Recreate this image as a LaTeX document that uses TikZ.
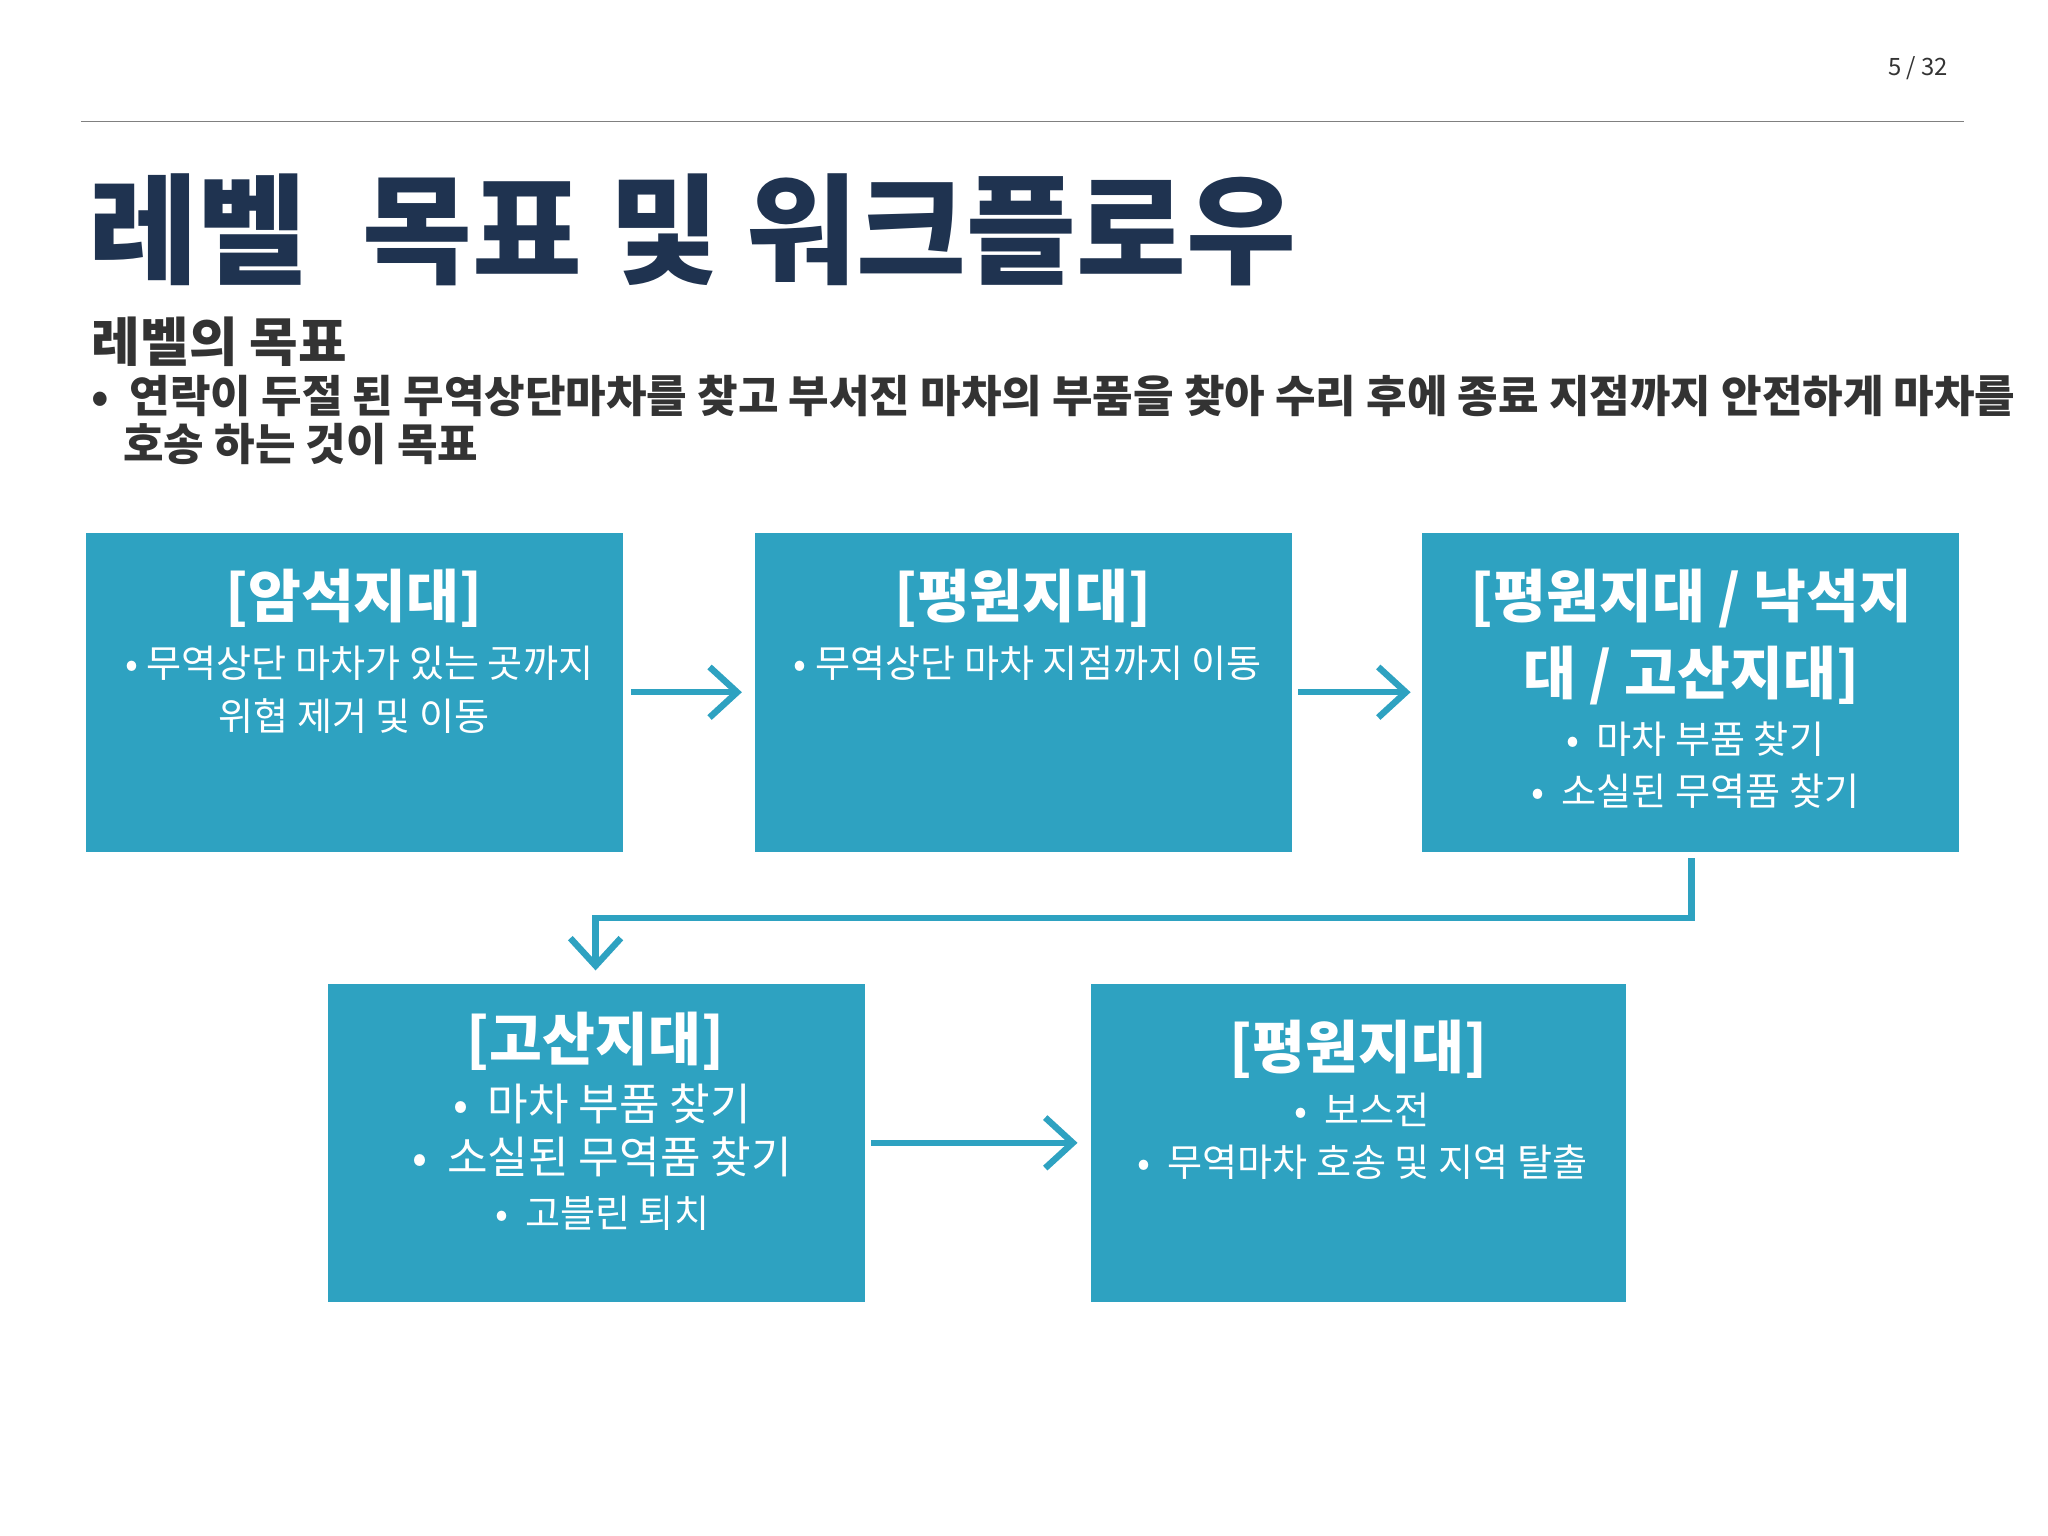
\documentclass[tikz,border=0pt]{standalone}
\usepackage{fontspec}
\setmainfont{Noto Sans CJK KR}
\usetikzlibrary{arrows.meta}
\definecolor{boxc}{HTML}{2EA2C1}
\definecolor{navy}{HTML}{1F3350}
\definecolor{txt}{HTML}{333333}
\tikzset{
 box/.style={fill=boxc,draw=none},
 btitle/.style={text=white,font=\fontsize{12.5}{14}\selectfont\bfseries,anchor=center},
 bline/.style={text=white,font=\fontsize{8.3}{10}\selectfont,anchor=center},
 conn/.style={draw=boxc,line width=1.4pt,-{Straight Barb[length=6pt,width=11pt,line width=1.4pt]}}
}
\begin{document}
\begin{tikzpicture}[x=0.01cm,y=-0.01cm]
\useasboundingbox (0,0) rectangle (1568,1176);
\node[text=txt,font=\fontsize{5.2}{6}\selectfont,anchor=east] (pg) at (1504,52) {5 / 32};
\draw[gray,line width=0.4pt] (62,93) -- (1504,93);
\node[text=navy,font=\fontsize{26}{30}\selectfont\bfseries,anchor=west] (title) at (55,176) {레벨\ \ 목표 및 워크플로우};
\node[text=txt,font=\fontsize{11.5}{13}\selectfont\bfseries,anchor=west] (sub) at (58,262) {레벨의 목표};
\node[text=txt,font=\fontsize{9.6}{11}\selectfont\bfseries,anchor=west] (b0) at (58,303) {•\ \ 연락이 두절 된 무역상단마차를 찾고 부서진 마차의 부품을 찾아 수리 후에 종료 지점까지 안전하게 마차를};
\node[text=txt,font=\fontsize{9.6}{11}\selectfont\bfseries,anchor=west] (b1) at (82,340) {호송 하는 것이 목표};

\path[box] (66,408) rectangle (477,652) coordinate (A2); \coordinate (A) at (271,530);
\path[box] (578,408) rectangle (989,652); \coordinate (B) at (783,530);
\path[box] (1089,408) rectangle (1500,652); \coordinate (C) at (1295,530);
\path[box] (251,753) rectangle (662,997); \coordinate (D) at (456,875);
\path[box] (835,753) rectangle (1245,997); \coordinate (E) at (1040,875);

\node[btitle] (t1) at (271,458) {[암석지대]};
\node[bline] at (275,508) {• 무역상단 마차가 있는 곳까지};
\node[bline] at (271,548) {위협 제거 및 이동};
\node[btitle] (t2) at (783,458) {[평원지대]};
\node[bline] at (787,508) {• 무역상단 마차 지점까지 이동};
\node[btitle] (t3) at (1295,458) {[평원지대 / 낙석지};
\node[btitle] at (1295,517) {대 / 고산지대]};
\node[bline] at (1298,566) {•\ \ 마차 부품 찾기};
\node[bline] at (1298,606) {•\ \ 소실된 무역품 찾기};
\node[btitle] (t4) at (456,797) {[고산지대]};
\node[bline,font=\fontsize{9.6}{11}\selectfont] at (461,845) {•\ \ 마차 부품 찾기};
\node[bline,font=\fontsize{9.6}{11}\selectfont] at (461,886) {•\ \ 소실된 무역품 찾기};
\node[bline] at (461,929) {•\ \ 고블린 퇴치};
\node[btitle] (t5) at (1040,803) {[평원지대]};
\node[bline] at (1043,850) {•\ \ 보스전};
\node[bline] at (1043,890) {•\ \ 무역마차 호송 및 지역 탈출};

\coordinate (a1s) at (483,530); \coordinate (a1e) at (568,530);
\coordinate (a2s) at (994,530); \coordinate (a2e) at (1080,530);
\coordinate (a3s) at (1295,657); \coordinate (a3e) at (456,743);
\coordinate (a4s) at (667,875); \coordinate (a4e) at (825,875);
\draw[conn] (a1s) -- (a1e);
\draw[conn] (a2s) -- (a2e);
\draw[conn] (a3s) |- (880,703) -| (a3e);
\draw[conn] (a4s) -- (a4e);
\end{tikzpicture}
\end{document}
